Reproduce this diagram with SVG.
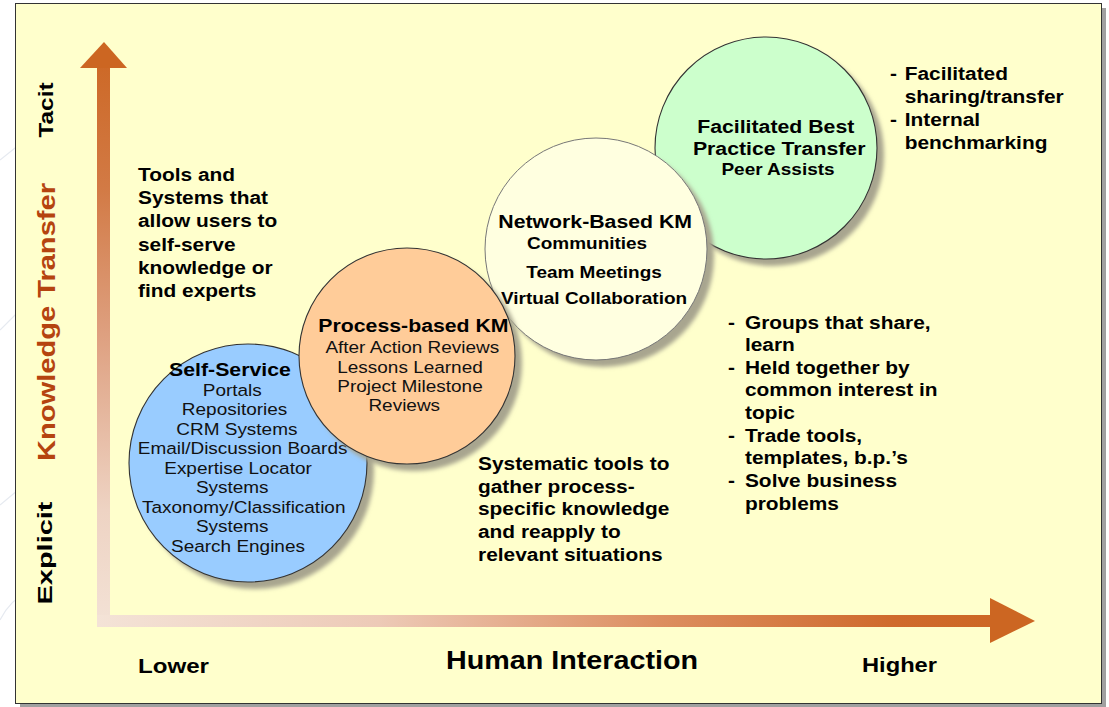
<svg xmlns="http://www.w3.org/2000/svg" width="1109" height="707" viewBox="0 0 1109 707">
  <style>
    .b { font-family: "Liberation Sans", Arial, sans-serif; font-weight: bold; fill: #000; }
    .r { font-family: "Liberation Sans", Arial, sans-serif; font-weight: normal; fill: #111; }
    .body { font-size: 18.5px; }
    .head { font-size: 18.5px; }
    .sub { font-size: 16.5px; }
    .deco { fill: none; stroke: #E6EAF0; stroke-width: 1.2; }
    .node-shadow { fill: #A8A58F; filter: url(#soft); }
    .node-edge { stroke: #333; stroke-width: 1.1; }
  </style>
  <defs>
    <filter id="soft" x="-20%" y="-20%" width="140%" height="140%">
      <feGaussianBlur stdDeviation="2"/>
    </filter>
    <linearGradient id="vgrad" gradientUnits="userSpaceOnUse" x1="0" y1="42" x2="0" y2="627">
      <stop offset="0" stop-color="#CC6622"/>
      <stop offset="0.25" stop-color="#D27A45"/>
      <stop offset="0.5" stop-color="#DEA080"/>
      <stop offset="0.8" stop-color="#EED3C3"/>
      <stop offset="1" stop-color="#F3E2D6"/>
    </linearGradient>
    <linearGradient id="hgrad" gradientUnits="userSpaceOnUse" x1="97" y1="0" x2="1035" y2="0">
      <stop offset="0" stop-color="#F4E3D7"/>
      <stop offset="0.3" stop-color="#EDCAB7"/>
      <stop offset="0.6" stop-color="#DC8E60"/>
      <stop offset="0.85" stop-color="#CF6A2C"/>
      <stop offset="1" stop-color="#CC6622"/>
    </linearGradient>
  </defs>

  <!-- page background with faint template strokes -->
  <rect x="0" y="0" width="1109" height="707" fill="#FFFFFF"/>
  <path class="deco" d="M0 330 L40 290"/>
  <path class="deco" d="M0 505 L30 480"/>
  <path class="deco" d="M0 620 Q10 600 30 590"/>
  <path class="deco" d="M0 160 L25 140"/>

  <!-- slide panel -->
  <rect x="20" y="8" width="1086" height="699" fill="#A0A0A0"/>
  <rect x="15.5" y="3.5" width="1086" height="700" fill="#FFFFCC" stroke="#333" stroke-width="1"/>

  <!-- axes -->
  <g id="connectors">
    <rect x="97" y="66" width="13" height="561" fill="url(#vgrad)"/>
    <polygon points="80,68 104,42 127,68" fill="#CC6622"/>
    <rect x="97" y="615" width="895" height="12" fill="url(#hgrad)"/>
    <polygon points="990,598 1035,621 990,643" fill="#CC6622"/>
  </g>

  <!-- axis labels -->
  <g id="axis-labels">
    <text class="b" font-size="20" transform="translate(53 110) rotate(-90)" text-anchor="middle" textLength="55" lengthAdjust="spacingAndGlyphs">Tacit</text>
    <text class="b" font-size="23" style="fill:#B5440F" transform="translate(55 322) rotate(-90)" text-anchor="middle" textLength="278" lengthAdjust="spacingAndGlyphs">Knowledge Transfer</text>
    <text class="b" font-size="20" transform="translate(52 553) rotate(-90)" text-anchor="middle" textLength="103" lengthAdjust="spacingAndGlyphs">Explicit</text>
    <text class="b" font-size="21" x="138" y="673" textLength="71" lengthAdjust="spacingAndGlyphs">Lower</text>
    <text class="b" font-size="25" x="446" y="669" textLength="252" lengthAdjust="spacingAndGlyphs">Human Interaction</text>
    <text class="b" font-size="21" x="862" y="672" textLength="75" lengthAdjust="spacingAndGlyphs">Higher</text>
  </g>

  <!-- Facilitated Best Practice Transfer -->
  <g id="node-best-practice">
    <circle class="node-shadow" cx="773" cy="155" r="111"/>
    <circle class="node-edge" cx="766" cy="148" r="111" fill="#CCFFCC"/>
    <g transform="translate(778 0) scale(1.15 1)" text-anchor="middle">
      <text class="b head" x="-2" y="133">Facilitated Best</text>
      <text class="b head" x="1" y="155">Practice Transfer</text>
      <text class="b sub" x="0" y="175">Peer Assists</text>
    </g>
  </g>

  <!-- Network-Based KM -->
  <g id="node-network">
    <circle class="node-shadow" cx="603" cy="256" r="111"/>
    <circle cx="596" cy="249" r="111" fill="#FFFFE0" stroke="#777" stroke-width="1"/>
    <g transform="translate(594 0) scale(1.15 1)" text-anchor="middle">
      <text class="b head" x="1" y="228">Network-Based KM</text>
      <text class="b sub" x="-6" y="249">Communities</text>
      <text class="b sub" x="0" y="278">Team Meetings</text>
      <text class="b sub" x="0" y="304">Virtual Collaboration</text>
    </g>
  </g>

  <!-- Self-Service -->
  <g id="node-self-service">
    <circle class="node-shadow" cx="255" cy="470" r="119"/>
    <circle class="node-edge" cx="248" cy="463" r="119" fill="#99CCFF"/>
    <g transform="translate(238 0) scale(1.15 1)" text-anchor="middle">
      <text class="b head" x="-7" y="376">Self-Service</text>
      <text class="r sub" x="-5" y="396">Portals</text>
      <text class="r sub" x="-3" y="415.5">Repositories</text>
      <text class="r sub" x="-1" y="435">CRM Systems</text>
      <text class="r sub" x="4" y="454.5">Email/Discussion Boards</text>
      <text class="r sub" x="0" y="474">Expertise Locator</text>
      <text class="r sub" x="-5" y="493.5">Systems</text>
      <text class="r sub" x="5" y="513">Taxonomy/Classification</text>
      <text class="r sub" x="-5" y="532.5">Systems</text>
      <text class="r sub" x="0" y="552">Search Engines</text>
    </g>
  </g>

  <!-- Process-based KM -->
  <g id="node-process">
    <circle class="node-shadow" cx="414" cy="363" r="108"/>
    <circle class="node-edge" cx="407" cy="356" r="108" fill="#FFCC99"/>
    <g transform="translate(410 0) scale(1.15 1)" text-anchor="middle">
      <text class="b head" x="3" y="332">Process-based KM</text>
      <text class="r sub" x="2" y="353">After Action Reviews</text>
      <text class="r sub" x="0" y="373">Lessons Learned</text>
      <text class="r sub" x="0" y="392">Project Milestone</text>
      <text class="r sub" x="-5" y="411">Reviews</text>
    </g>
  </g>

  <!-- descriptive notes -->
  <g id="note-self-service" transform="translate(138 0) scale(1.13 1)">
    <text class="b body" x="0" y="181">Tools and</text>
    <text class="b body" x="0" y="204.2">Systems that</text>
    <text class="b body" x="0" y="227.4">allow users to</text>
    <text class="b body" x="0" y="250.6">self-serve</text>
    <text class="b body" x="0" y="273.8">knowledge or</text>
    <text class="b body" x="0" y="297">find experts</text>
  </g>

  <g id="note-process" transform="translate(478 0) scale(1.13 1)">
    <text class="b body" x="0" y="470">Systematic tools to</text>
    <text class="b body" x="0" y="492.7">gather process-</text>
    <text class="b body" x="0" y="515.4">specific knowledge</text>
    <text class="b body" x="0" y="538">and reapply to</text>
    <text class="b body" x="0" y="560.7">relevant situations</text>
  </g>

  <g id="note-network" transform="translate(728 0) scale(1.13 1)">
    <text class="b body" x="0" y="329">-</text>
    <text class="b body" x="15" y="329">Groups that share,</text>
    <text class="b body" x="15" y="351.5">learn</text>
    <text class="b body" x="0" y="374">-</text>
    <text class="b body" x="15" y="374">Held together by</text>
    <text class="b body" x="15" y="396.5">common interest in</text>
    <text class="b body" x="15" y="419">topic</text>
    <text class="b body" x="0" y="442">-</text>
    <text class="b body" x="15" y="442">Trade tools,</text>
    <text class="b body" x="15" y="464.5">templates, b.p.’s</text>
    <text class="b body" x="0" y="487">-</text>
    <text class="b body" x="15" y="487">Solve business</text>
    <text class="b body" x="15" y="510">problems</text>
  </g>

  <g id="note-best-practice" transform="translate(890 0) scale(1.13 1)">
    <text class="b body" x="0" y="80">-</text>
    <text class="b body" x="13" y="80">Facilitated</text>
    <text class="b body" x="13" y="103">sharing/transfer</text>
    <text class="b body" x="0" y="126">-</text>
    <text class="b body" x="13" y="126">Internal</text>
    <text class="b body" x="13" y="149">benchmarking</text>
  </g>
</svg>
